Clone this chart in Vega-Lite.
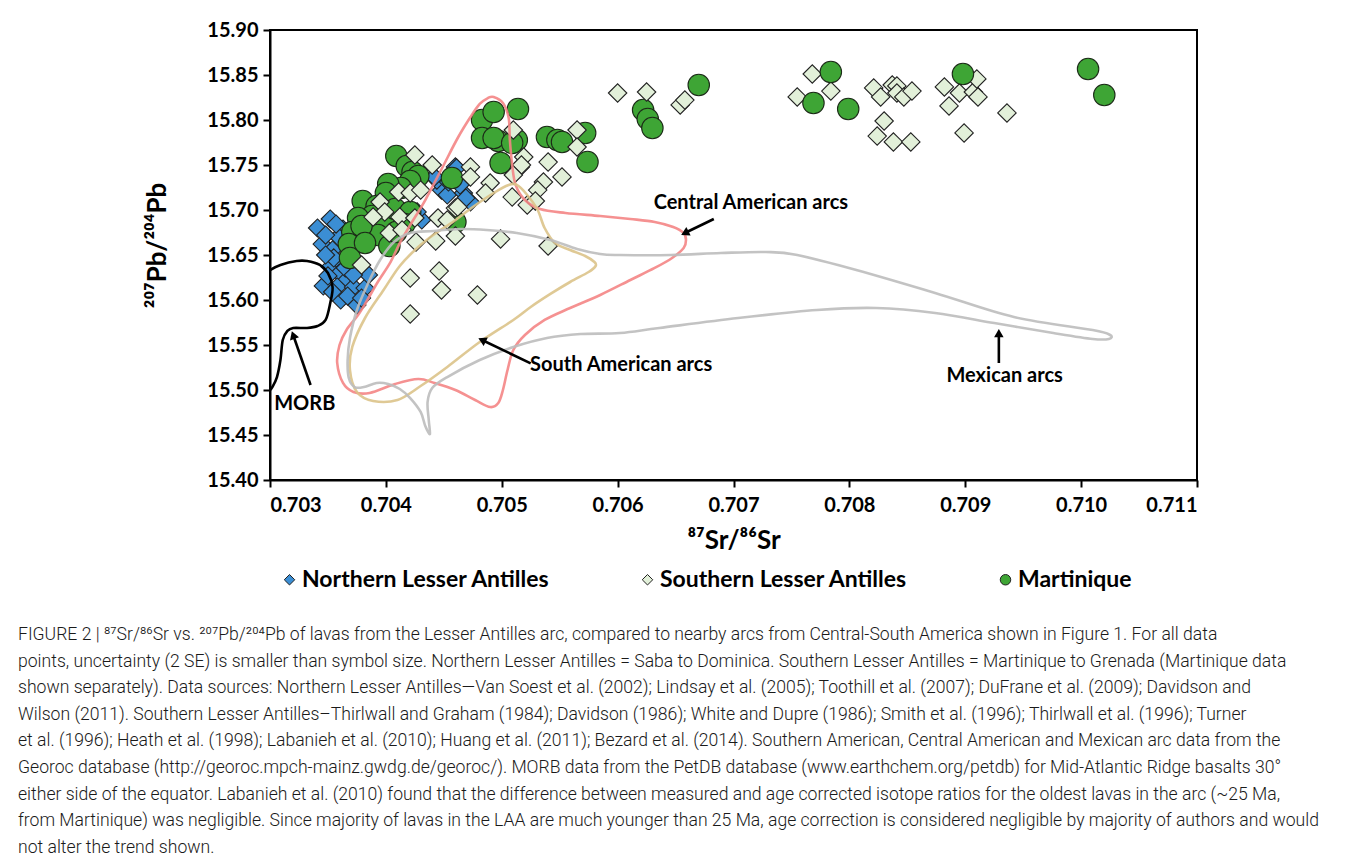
{
  "$schema": "https://vega.github.io/schema/vega-lite/v6.json",
  "width": 927,
  "height": 450,
  "autosize": {"type": "none"},
  "padding": {"left": 270, "top": 30, "right": 157, "bottom": 378},
  "background": "white",
  "config": {
    "view": {"stroke": "black", "strokeWidth": 2},
    "font": "Lato",
    "axis": {
      "grid": false,
      "domainColor": "black",
      "domainWidth": 2,
      "tickColor": "black",
      "tickWidth": 2,
      "tickSize": 7,
      "labelFont": "Lato",
      "labelFontWeight": "bold",
      "labelFontSize": 20,
      "labelColor": "black",
      "titleFont": "Lato",
      "titleFontWeight": "bold",
      "titleFontSize": 26,
      "titleColor": "black"
    },
    "legend": {
      "orient": "none",
      "legendX": 8,
      "legendY": 538,
      "direction": "horizontal",
      "gridAlign": "all",
      "columnPadding": 86,
      "padding": 0,
      "symbolSize": 110,
      "symbolStrokeColor": "#222222",
      "symbolStrokeWidth": 1,
      "labelFont": "Lato",
      "labelFontWeight": "bold",
      "labelFontSize": 23,
      "labelColor": "black",
      "labelOffset": 1,
      "labelLimit": 400
    }
  },
  "title": {
    "text": [
      "FIGURE 2 | ⁸⁷Sr/⁸⁶Sr vs. ²⁰⁷Pb/²⁰⁴Pb of lavas from the Lesser Antilles arc, compared to nearby arcs from Central-South America shown in Figure 1. For all data",
      "points, uncertainty (2 SE) is smaller than symbol size. Northern Lesser Antilles = Saba to Dominica. Southern Lesser Antilles = Martinique to Grenada (Martinique data",
      "shown separately). Data sources: Northern Lesser Antilles—Van Soest et al. (2002); Lindsay et al. (2005); Toothill et al. (2007); DuFrane et al. (2009); Davidson and",
      "Wilson (2011). Southern Lesser Antilles–Thirlwall and Graham (1984); Davidson (1986); White and Dupre (1986); Smith et al. (1996); Thirlwall et al. (1996); Turner",
      "et al. (1996); Heath et al. (1998); Labanieh et al. (2010); Huang et al. (2011); Bezard et al. (2014). Southern American, Central American and Mexican arc data from the",
      "Georoc database (http://georoc.mpch-mainz.gwdg.de/georoc/). MORB data from the PetDB database (www.earthchem.org/petdb) for Mid-Atlantic Ridge basalts 30°",
      "either side of the equator. Labanieh et al. (2010) found that the difference between measured and age corrected isotope ratios for the oldest lavas in the arc (~25 Ma,",
      "from Martinique) was negligible. Since majority of lavas in the LAA are much younger than 25 Ma, age correction is considered negligible by majority of authors and would",
      "not alter the trend shown."
    ],
    "orient": "bottom",
    "anchor": "start",
    "frame": "group",
    "align": "left",
    "dx": -252,
    "offset": 34,
    "font": "Roboto",
    "fontSize": 17.6,
    "fontWeight": 300,
    "color": "#1a1a1a",
    "lineHeight": 26.6
  },
  "datasets": {
    "points": [
      {"g": "Northern Lesser Antilles", "x": 0.70352, "y": 15.69},
      {"g": "Northern Lesser Antilles", "x": 0.70341, "y": 15.68},
      {"g": "Northern Lesser Antilles", "x": 0.70345, "y": 15.6622},
      {"g": "Northern Lesser Antilles", "x": 0.70363, "y": 15.6789},
      {"g": "Northern Lesser Antilles", "x": 0.70359, "y": 15.67},
      {"g": "Northern Lesser Antilles", "x": 0.70354, "y": 15.6556},
      {"g": "Northern Lesser Antilles", "x": 0.70352, "y": 15.6367},
      {"g": "Northern Lesser Antilles", "x": 0.70361, "y": 15.6422},
      {"g": "Northern Lesser Antilles", "x": 0.70355, "y": 15.6467},
      {"g": "Northern Lesser Antilles", "x": 0.7036, "y": 15.63},
      {"g": "Northern Lesser Antilles", "x": 0.70366, "y": 15.6222},
      {"g": "Northern Lesser Antilles", "x": 0.70346, "y": 15.6156},
      {"g": "Northern Lesser Antilles", "x": 0.70358, "y": 15.6144},
      {"g": "Northern Lesser Antilles", "x": 0.70361, "y": 15.6},
      {"g": "Northern Lesser Antilles", "x": 0.70372, "y": 15.6144},
      {"g": "Northern Lesser Antilles", "x": 0.70382, "y": 15.6133},
      {"g": "Northern Lesser Antilles", "x": 0.70385, "y": 15.6278},
      {"g": "Northern Lesser Antilles", "x": 0.70375, "y": 15.5944},
      {"g": "Northern Lesser Antilles", "x": 0.70354, "y": 15.6089},
      {"g": "Northern Lesser Antilles", "x": 0.70367, "y": 15.6044},
      {"g": "Northern Lesser Antilles", "x": 0.7035, "y": 15.6267},
      {"g": "Northern Lesser Antilles", "x": 0.70365, "y": 15.6356},
      {"g": "Northern Lesser Antilles", "x": 0.7046, "y": 15.7478},
      {"g": "Northern Lesser Antilles", "x": 0.70448, "y": 15.7222},
      {"g": "Northern Lesser Antilles", "x": 0.70453, "y": 15.7167},
      {"g": "Northern Lesser Antilles", "x": 0.70467, "y": 15.7189},
      {"g": "Northern Lesser Antilles", "x": 0.70473, "y": 15.7089},
      {"g": "Northern Lesser Antilles", "x": 0.70444, "y": 15.7333},
      {"g": "Northern Lesser Antilles", "x": 0.70461, "y": 15.7467},
      {"g": "Northern Lesser Antilles", "x": 0.70454, "y": 15.7311},
      {"g": "Northern Lesser Antilles", "x": 0.70442, "y": 15.7367},
      {"g": "Northern Lesser Antilles", "x": 0.70464, "y": 15.7278},
      {"g": "Northern Lesser Antilles", "x": 0.70469, "y": 15.7133},
      {"g": "Northern Lesser Antilles", "x": 0.70431, "y": 15.6889},
      {"g": "Northern Lesser Antilles", "x": 0.70427, "y": 15.6978},
      {"g": "Northern Lesser Antilles", "x": 0.70348, "y": 15.6722},
      {"g": "Northern Lesser Antilles", "x": 0.70357, "y": 15.6844},
      {"g": "Northern Lesser Antilles", "x": 0.70371, "y": 15.6556},
      {"g": "Northern Lesser Antilles", "x": 0.70376, "y": 15.6411},
      {"g": "Northern Lesser Antilles", "x": 0.70379, "y": 15.6022},
      {"g": "Northern Lesser Antilles", "x": 0.70372, "y": 15.6278},
      {"g": "Northern Lesser Antilles", "x": 0.70348, "y": 15.65},
      {"g": "Southern Lesser Antilles", "x": 0.70425, "y": 15.7611},
      {"g": "Southern Lesser Antilles", "x": 0.7044, "y": 15.75},
      {"g": "Southern Lesser Antilles", "x": 0.70473, "y": 15.7478},
      {"g": "Southern Lesser Antilles", "x": 0.70473, "y": 15.7367},
      {"g": "Southern Lesser Antilles", "x": 0.7049, "y": 15.73},
      {"g": "Southern Lesser Antilles", "x": 0.70486, "y": 15.7189},
      {"g": "Southern Lesser Antilles", "x": 0.70509, "y": 15.7144},
      {"g": "Southern Lesser Antilles", "x": 0.70516, "y": 15.7478},
      {"g": "Southern Lesser Antilles", "x": 0.7054, "y": 15.7533},
      {"g": "Southern Lesser Antilles", "x": 0.70536, "y": 15.7311},
      {"g": "Southern Lesser Antilles", "x": 0.70531, "y": 15.7222},
      {"g": "Southern Lesser Antilles", "x": 0.70522, "y": 15.7056},
      {"g": "Southern Lesser Antilles", "x": 0.70529, "y": 15.71},
      {"g": "Southern Lesser Antilles", "x": 0.70411, "y": 15.72},
      {"g": "Southern Lesser Antilles", "x": 0.70421, "y": 15.7189},
      {"g": "Southern Lesser Antilles", "x": 0.7043, "y": 15.7222},
      {"g": "Southern Lesser Antilles", "x": 0.70395, "y": 15.7089},
      {"g": "Southern Lesser Antilles", "x": 0.70399, "y": 15.6978},
      {"g": "Southern Lesser Antilles", "x": 0.70389, "y": 15.6922},
      {"g": "Southern Lesser Antilles", "x": 0.70412, "y": 15.6922},
      {"g": "Southern Lesser Antilles", "x": 0.70425, "y": 15.6911},
      {"g": "Southern Lesser Antilles", "x": 0.70403, "y": 15.6744},
      {"g": "Southern Lesser Antilles", "x": 0.70414, "y": 15.6778},
      {"g": "Southern Lesser Antilles", "x": 0.70445, "y": 15.6911},
      {"g": "Southern Lesser Antilles", "x": 0.7046, "y": 15.7022},
      {"g": "Southern Lesser Antilles", "x": 0.70453, "y": 15.6889},
      {"g": "Southern Lesser Antilles", "x": 0.70426, "y": 15.6644},
      {"g": "Southern Lesser Antilles", "x": 0.70443, "y": 15.6656},
      {"g": "Southern Lesser Antilles", "x": 0.7046, "y": 15.6711},
      {"g": "Southern Lesser Antilles", "x": 0.70499, "y": 15.6678},
      {"g": "Southern Lesser Antilles", "x": 0.7054, "y": 15.66},
      {"g": "Southern Lesser Antilles", "x": 0.70379, "y": 15.6389},
      {"g": "Southern Lesser Antilles", "x": 0.70421, "y": 15.6244},
      {"g": "Southern Lesser Antilles", "x": 0.70446, "y": 15.6322},
      {"g": "Southern Lesser Antilles", "x": 0.70448, "y": 15.6111},
      {"g": "Southern Lesser Antilles", "x": 0.70479, "y": 15.6056},
      {"g": "Southern Lesser Antilles", "x": 0.70421, "y": 15.5844},
      {"g": "Southern Lesser Antilles", "x": 0.70519, "y": 15.7589},
      {"g": "Southern Lesser Antilles", "x": 0.70517, "y": 15.75},
      {"g": "Southern Lesser Antilles", "x": 0.7051, "y": 15.7389},
      {"g": "Southern Lesser Antilles", "x": 0.7051, "y": 15.7889},
      {"g": "Southern Lesser Antilles", "x": 0.70552, "y": 15.7367},
      {"g": "Southern Lesser Antilles", "x": 0.70565, "y": 15.7889},
      {"g": "Southern Lesser Antilles", "x": 0.70565, "y": 15.77},
      {"g": "Southern Lesser Antilles", "x": 0.70462, "y": 15.7033},
      {"g": "Southern Lesser Antilles", "x": 0.706, "y": 15.83},
      {"g": "Southern Lesser Antilles", "x": 0.70625, "y": 15.8311},
      {"g": "Southern Lesser Antilles", "x": 0.70654, "y": 15.8167},
      {"g": "Southern Lesser Antilles", "x": 0.70658, "y": 15.8222},
      {"g": "Southern Lesser Antilles", "x": 0.70768, "y": 15.8511},
      {"g": "Southern Lesser Antilles", "x": 0.70755, "y": 15.8256},
      {"g": "Southern Lesser Antilles", "x": 0.70784, "y": 15.8322},
      {"g": "Southern Lesser Antilles", "x": 0.70821, "y": 15.8356},
      {"g": "Southern Lesser Antilles", "x": 0.70827, "y": 15.8256},
      {"g": "Southern Lesser Antilles", "x": 0.70837, "y": 15.8389},
      {"g": "Southern Lesser Antilles", "x": 0.70841, "y": 15.8378},
      {"g": "Southern Lesser Antilles", "x": 0.70841, "y": 15.83},
      {"g": "Southern Lesser Antilles", "x": 0.70847, "y": 15.8256},
      {"g": "Southern Lesser Antilles", "x": 0.70854, "y": 15.8322},
      {"g": "Southern Lesser Antilles", "x": 0.7083, "y": 15.7989},
      {"g": "Southern Lesser Antilles", "x": 0.70824, "y": 15.7822},
      {"g": "Southern Lesser Antilles", "x": 0.70838, "y": 15.7756},
      {"g": "Southern Lesser Antilles", "x": 0.70853, "y": 15.7756},
      {"g": "Southern Lesser Antilles", "x": 0.70882, "y": 15.8367},
      {"g": "Southern Lesser Antilles", "x": 0.70895, "y": 15.83},
      {"g": "Southern Lesser Antilles", "x": 0.70907, "y": 15.8311},
      {"g": "Southern Lesser Antilles", "x": 0.7091, "y": 15.8456},
      {"g": "Southern Lesser Antilles", "x": 0.70911, "y": 15.8256},
      {"g": "Southern Lesser Antilles", "x": 0.70886, "y": 15.8156},
      {"g": "Southern Lesser Antilles", "x": 0.70899, "y": 15.7856},
      {"g": "Southern Lesser Antilles", "x": 0.70936, "y": 15.8078},
      {"g": "Martinique", "x": 0.70409, "y": 15.76},
      {"g": "Martinique", "x": 0.70418, "y": 15.7489},
      {"g": "Martinique", "x": 0.70423, "y": 15.7422},
      {"g": "Martinique", "x": 0.70428, "y": 15.7378},
      {"g": "Martinique", "x": 0.70421, "y": 15.7322},
      {"g": "Martinique", "x": 0.70413, "y": 15.7244},
      {"g": "Martinique", "x": 0.70402, "y": 15.7289},
      {"g": "Martinique", "x": 0.704, "y": 15.7189},
      {"g": "Martinique", "x": 0.7038, "y": 15.71},
      {"g": "Martinique", "x": 0.70392, "y": 15.7044},
      {"g": "Martinique", "x": 0.70388, "y": 15.6933},
      {"g": "Martinique", "x": 0.70376, "y": 15.6911},
      {"g": "Martinique", "x": 0.70398, "y": 15.69},
      {"g": "Martinique", "x": 0.70408, "y": 15.7011},
      {"g": "Martinique", "x": 0.70421, "y": 15.6978},
      {"g": "Martinique", "x": 0.70416, "y": 15.6844},
      {"g": "Martinique", "x": 0.70371, "y": 15.6756},
      {"g": "Martinique", "x": 0.70383, "y": 15.6711},
      {"g": "Martinique", "x": 0.70393, "y": 15.6722},
      {"g": "Martinique", "x": 0.70403, "y": 15.66},
      {"g": "Martinique", "x": 0.70368, "y": 15.6622},
      {"g": "Martinique", "x": 0.70369, "y": 15.6467},
      {"g": "Martinique", "x": 0.70379, "y": 15.6822},
      {"g": "Martinique", "x": 0.70409, "y": 15.6756},
      {"g": "Martinique", "x": 0.7046, "y": 15.6867},
      {"g": "Martinique", "x": 0.70457, "y": 15.7356},
      {"g": "Martinique", "x": 0.70382, "y": 15.6633},
      {"g": "Martinique", "x": 0.70483, "y": 15.8},
      {"g": "Martinique", "x": 0.70493, "y": 15.8089},
      {"g": "Martinique", "x": 0.70514, "y": 15.8122},
      {"g": "Martinique", "x": 0.70483, "y": 15.78},
      {"g": "Martinique", "x": 0.70497, "y": 15.7767},
      {"g": "Martinique", "x": 0.70493, "y": 15.78},
      {"g": "Martinique", "x": 0.70513, "y": 15.7778},
      {"g": "Martinique", "x": 0.70509, "y": 15.7744},
      {"g": "Martinique", "x": 0.70499, "y": 15.7522},
      {"g": "Martinique", "x": 0.70539, "y": 15.7811},
      {"g": "Martinique", "x": 0.70548, "y": 15.7778},
      {"g": "Martinique", "x": 0.70552, "y": 15.7756},
      {"g": "Martinique", "x": 0.70572, "y": 15.7856},
      {"g": "Martinique", "x": 0.70574, "y": 15.7533},
      {"g": "Martinique", "x": 0.70622, "y": 15.8111},
      {"g": "Martinique", "x": 0.70626, "y": 15.8011},
      {"g": "Martinique", "x": 0.7063, "y": 15.7911},
      {"g": "Martinique", "x": 0.7067, "y": 15.8389},
      {"g": "Martinique", "x": 0.70784, "y": 15.8533},
      {"g": "Martinique", "x": 0.70769, "y": 15.8189},
      {"g": "Martinique", "x": 0.70799, "y": 15.8122},
      {"g": "Martinique", "x": 0.70898, "y": 15.8511},
      {"g": "Martinique", "x": 0.71006, "y": 15.8567},
      {"g": "Martinique", "x": 0.7102, "y": 15.8278}
    ],
    "curves": [
      {"c": "MORB", "i": 1, "x": 0.703, "y": 15.6333},
      {"c": "MORB", "i": 2, "x": 0.70309, "y": 15.6389},
      {"c": "MORB", "i": 3, "x": 0.70323, "y": 15.6433},
      {"c": "MORB", "i": 4, "x": 0.70332, "y": 15.6433},
      {"c": "MORB", "i": 5, "x": 0.70343, "y": 15.6389},
      {"c": "MORB", "i": 6, "x": 0.7035, "y": 15.63},
      {"c": "MORB", "i": 7, "x": 0.70354, "y": 15.6144},
      {"c": "MORB", "i": 8, "x": 0.70352, "y": 15.5967},
      {"c": "MORB", "i": 9, "x": 0.70348, "y": 15.5778},
      {"c": "MORB", "i": 10, "x": 0.70341, "y": 15.5711},
      {"c": "MORB", "i": 11, "x": 0.70332, "y": 15.5689},
      {"c": "MORB", "i": 12, "x": 0.7032, "y": 15.5689},
      {"c": "MORB", "i": 13, "x": 0.70315, "y": 15.5656},
      {"c": "MORB", "i": 14, "x": 0.70311, "y": 15.5556},
      {"c": "MORB", "i": 15, "x": 0.70309, "y": 15.5333},
      {"c": "MORB", "i": 16, "x": 0.70306, "y": 15.5144},
      {"c": "MORB", "i": 17, "x": 0.70302, "y": 15.5033},
      {"c": "MORB", "i": 18, "x": 0.703, "y": 15.5},
      {"c": "Central American arcs", "i": 1, "x": 0.70493, "y": 15.8256},
      {"c": "Central American arcs", "i": 2, "x": 0.70501, "y": 15.8189},
      {"c": "Central American arcs", "i": 3, "x": 0.70506, "y": 15.8022},
      {"c": "Central American arcs", "i": 4, "x": 0.70507, "y": 15.7778},
      {"c": "Central American arcs", "i": 5, "x": 0.70509, "y": 15.75},
      {"c": "Central American arcs", "i": 6, "x": 0.70512, "y": 15.7278},
      {"c": "Central American arcs", "i": 7, "x": 0.7052, "y": 15.7111},
      {"c": "Central American arcs", "i": 8, "x": 0.70533, "y": 15.7011},
      {"c": "Central American arcs", "i": 9, "x": 0.70555, "y": 15.6967},
      {"c": "Central American arcs", "i": 10, "x": 0.70585, "y": 15.6933},
      {"c": "Central American arcs", "i": 11, "x": 0.70611, "y": 15.69},
      {"c": "Central American arcs", "i": 12, "x": 0.70632, "y": 15.6867},
      {"c": "Central American arcs", "i": 13, "x": 0.70648, "y": 15.6811},
      {"c": "Central American arcs", "i": 14, "x": 0.70657, "y": 15.6744},
      {"c": "Central American arcs", "i": 15, "x": 0.70659, "y": 15.6667},
      {"c": "Central American arcs", "i": 16, "x": 0.70657, "y": 15.6578},
      {"c": "Central American arcs", "i": 17, "x": 0.70647, "y": 15.6467},
      {"c": "Central American arcs", "i": 18, "x": 0.70632, "y": 15.6356},
      {"c": "Central American arcs", "i": 19, "x": 0.70611, "y": 15.6222},
      {"c": "Central American arcs", "i": 20, "x": 0.70585, "y": 15.6056},
      {"c": "Central American arcs", "i": 21, "x": 0.70559, "y": 15.5911},
      {"c": "Central American arcs", "i": 22, "x": 0.70537, "y": 15.5778},
      {"c": "Central American arcs", "i": 23, "x": 0.7052, "y": 15.5611},
      {"c": "Central American arcs", "i": 24, "x": 0.7051, "y": 15.5444},
      {"c": "Central American arcs", "i": 25, "x": 0.70505, "y": 15.5222},
      {"c": "Central American arcs", "i": 26, "x": 0.70501, "y": 15.5},
      {"c": "Central American arcs", "i": 27, "x": 0.70497, "y": 15.4856},
      {"c": "Central American arcs", "i": 28, "x": 0.7049, "y": 15.4811},
      {"c": "Central American arcs", "i": 29, "x": 0.70477, "y": 15.4889},
      {"c": "Central American arcs", "i": 30, "x": 0.7046, "y": 15.5},
      {"c": "Central American arcs", "i": 31, "x": 0.70442, "y": 15.5078},
      {"c": "Central American arcs", "i": 32, "x": 0.70428, "y": 15.5122},
      {"c": "Central American arcs", "i": 33, "x": 0.70408, "y": 15.5067},
      {"c": "Central American arcs", "i": 34, "x": 0.70386, "y": 15.4967},
      {"c": "Central American arcs", "i": 35, "x": 0.70372, "y": 15.4978},
      {"c": "Central American arcs", "i": 36, "x": 0.70363, "y": 15.5078},
      {"c": "Central American arcs", "i": 37, "x": 0.70358, "y": 15.53},
      {"c": "Central American arcs", "i": 38, "x": 0.7036, "y": 15.55},
      {"c": "Central American arcs", "i": 39, "x": 0.70366, "y": 15.5667},
      {"c": "Central American arcs", "i": 40, "x": 0.70376, "y": 15.5833},
      {"c": "Central American arcs", "i": 41, "x": 0.70384, "y": 15.6},
      {"c": "Central American arcs", "i": 42, "x": 0.70393, "y": 15.62},
      {"c": "Central American arcs", "i": 43, "x": 0.70404, "y": 15.6422},
      {"c": "Central American arcs", "i": 44, "x": 0.70412, "y": 15.6633},
      {"c": "Central American arcs", "i": 45, "x": 0.70421, "y": 15.6833},
      {"c": "Central American arcs", "i": 46, "x": 0.70434, "y": 15.7111},
      {"c": "Central American arcs", "i": 47, "x": 0.70449, "y": 15.7478},
      {"c": "Central American arcs", "i": 48, "x": 0.70462, "y": 15.78},
      {"c": "Central American arcs", "i": 49, "x": 0.70473, "y": 15.8033},
      {"c": "Central American arcs", "i": 50, "x": 0.70481, "y": 15.8178},
      {"c": "Central American arcs", "i": 51, "x": 0.70488, "y": 15.8244},
      {"c": "South American arcs", "i": 1, "x": 0.70513, "y": 15.7278},
      {"c": "South American arcs", "i": 2, "x": 0.70522, "y": 15.7167},
      {"c": "South American arcs", "i": 3, "x": 0.70531, "y": 15.7},
      {"c": "South American arcs", "i": 4, "x": 0.70537, "y": 15.68},
      {"c": "South American arcs", "i": 5, "x": 0.70546, "y": 15.6633},
      {"c": "South American arcs", "i": 6, "x": 0.70559, "y": 15.6556},
      {"c": "South American arcs", "i": 7, "x": 0.70572, "y": 15.6489},
      {"c": "South American arcs", "i": 8, "x": 0.7058, "y": 15.6422},
      {"c": "South American arcs", "i": 9, "x": 0.70581, "y": 15.6378},
      {"c": "South American arcs", "i": 10, "x": 0.70575, "y": 15.6311},
      {"c": "South American arcs", "i": 11, "x": 0.70559, "y": 15.62},
      {"c": "South American arcs", "i": 12, "x": 0.70542, "y": 15.6067},
      {"c": "South American arcs", "i": 13, "x": 0.70525, "y": 15.5922},
      {"c": "South American arcs", "i": 14, "x": 0.7051, "y": 15.5778},
      {"c": "South American arcs", "i": 15, "x": 0.70481, "y": 15.5533},
      {"c": "South American arcs", "i": 16, "x": 0.70453, "y": 15.5256},
      {"c": "South American arcs", "i": 17, "x": 0.7043, "y": 15.5044},
      {"c": "South American arcs", "i": 18, "x": 0.7041, "y": 15.4889},
      {"c": "South American arcs", "i": 19, "x": 0.70389, "y": 15.4878},
      {"c": "South American arcs", "i": 20, "x": 0.70375, "y": 15.4978},
      {"c": "South American arcs", "i": 21, "x": 0.70369, "y": 15.5222},
      {"c": "South American arcs", "i": 22, "x": 0.70371, "y": 15.5478},
      {"c": "South American arcs", "i": 23, "x": 0.70382, "y": 15.58},
      {"c": "South American arcs", "i": 24, "x": 0.70398, "y": 15.6111},
      {"c": "South American arcs", "i": 25, "x": 0.70412, "y": 15.6378},
      {"c": "South American arcs", "i": 26, "x": 0.70427, "y": 15.6578},
      {"c": "South American arcs", "i": 27, "x": 0.70442, "y": 15.6733},
      {"c": "South American arcs", "i": 28, "x": 0.70459, "y": 15.6878},
      {"c": "South American arcs", "i": 29, "x": 0.70475, "y": 15.7033},
      {"c": "South American arcs", "i": 30, "x": 0.70493, "y": 15.7189},
      {"c": "South American arcs", "i": 31, "x": 0.70506, "y": 15.7278},
      {"c": "Mexican arcs", "i": 1, "x": 0.70421, "y": 15.6744},
      {"c": "Mexican arcs", "i": 2, "x": 0.70441, "y": 15.6767},
      {"c": "Mexican arcs", "i": 3, "x": 0.70464, "y": 15.6789},
      {"c": "Mexican arcs", "i": 4, "x": 0.70487, "y": 15.6778},
      {"c": "Mexican arcs", "i": 5, "x": 0.70513, "y": 15.6744},
      {"c": "Mexican arcs", "i": 6, "x": 0.70542, "y": 15.6667},
      {"c": "Mexican arcs", "i": 7, "x": 0.70565, "y": 15.6567},
      {"c": "Mexican arcs", "i": 8, "x": 0.70585, "y": 15.6511},
      {"c": "Mexican arcs", "i": 9, "x": 0.70602, "y": 15.65},
      {"c": "Mexican arcs", "i": 10, "x": 0.70646, "y": 15.65},
      {"c": "Mexican arcs", "i": 11, "x": 0.70689, "y": 15.6522},
      {"c": "Mexican arcs", "i": 12, "x": 0.70728, "y": 15.6533},
      {"c": "Mexican arcs", "i": 13, "x": 0.70755, "y": 15.65},
      {"c": "Mexican arcs", "i": 14, "x": 0.70806, "y": 15.6333},
      {"c": "Mexican arcs", "i": 15, "x": 0.70874, "y": 15.6078},
      {"c": "Mexican arcs", "i": 16, "x": 0.70942, "y": 15.5811},
      {"c": "Mexican arcs", "i": 17, "x": 0.7101, "y": 15.5667},
      {"c": "Mexican arcs", "i": 18, "x": 0.71025, "y": 15.5611},
      {"c": "Mexican arcs", "i": 19, "x": 0.71024, "y": 15.5567},
      {"c": "Mexican arcs", "i": 20, "x": 0.7101, "y": 15.5567},
      {"c": "Mexican arcs", "i": 21, "x": 0.70976, "y": 15.5633},
      {"c": "Mexican arcs", "i": 22, "x": 0.70925, "y": 15.5744},
      {"c": "Mexican arcs", "i": 23, "x": 0.70874, "y": 15.5856},
      {"c": "Mexican arcs", "i": 24, "x": 0.70823, "y": 15.5911},
      {"c": "Mexican arcs", "i": 25, "x": 0.70772, "y": 15.5889},
      {"c": "Mexican arcs", "i": 26, "x": 0.70704, "y": 15.58},
      {"c": "Mexican arcs", "i": 27, "x": 0.70636, "y": 15.5689},
      {"c": "Mexican arcs", "i": 28, "x": 0.70602, "y": 15.5633},
      {"c": "Mexican arcs", "i": 29, "x": 0.70568, "y": 15.5622},
      {"c": "Mexican arcs", "i": 30, "x": 0.70539, "y": 15.5578},
      {"c": "Mexican arcs", "i": 31, "x": 0.7051, "y": 15.5478},
      {"c": "Mexican arcs", "i": 32, "x": 0.70481, "y": 15.5333},
      {"c": "Mexican arcs", "i": 33, "x": 0.70453, "y": 15.5144},
      {"c": "Mexican arcs", "i": 34, "x": 0.7044, "y": 15.5022},
      {"c": "Mexican arcs", "i": 35, "x": 0.70436, "y": 15.4867},
      {"c": "Mexican arcs", "i": 36, "x": 0.70437, "y": 15.4667},
      {"c": "Mexican arcs", "i": 37, "x": 0.70438, "y": 15.4511},
      {"c": "Mexican arcs", "i": 38, "x": 0.70434, "y": 15.46},
      {"c": "Mexican arcs", "i": 39, "x": 0.7043, "y": 15.4756},
      {"c": "Mexican arcs", "i": 40, "x": 0.70421, "y": 15.4911},
      {"c": "Mexican arcs", "i": 41, "x": 0.70412, "y": 15.5011},
      {"c": "Mexican arcs", "i": 42, "x": 0.70402, "y": 15.5067},
      {"c": "Mexican arcs", "i": 43, "x": 0.70392, "y": 15.5078},
      {"c": "Mexican arcs", "i": 44, "x": 0.70381, "y": 15.5033},
      {"c": "Mexican arcs", "i": 45, "x": 0.70373, "y": 15.5033},
      {"c": "Mexican arcs", "i": 46, "x": 0.70368, "y": 15.5133},
      {"c": "Mexican arcs", "i": 47, "x": 0.70367, "y": 15.5333},
      {"c": "Mexican arcs", "i": 48, "x": 0.70369, "y": 15.5578},
      {"c": "Mexican arcs", "i": 49, "x": 0.70375, "y": 15.5889},
      {"c": "Mexican arcs", "i": 50, "x": 0.70384, "y": 15.6167},
      {"c": "Mexican arcs", "i": 51, "x": 0.70395, "y": 15.6444},
      {"c": "Mexican arcs", "i": 52, "x": 0.70407, "y": 15.6644}
    ],
    "arrows": [
      {"a": "MORB", "x": 0.7032, "y": 15.5611, "x2": 0.70335, "y2": 15.5056},
      {"a": "South American arcs", "x": 0.70483, "y": 15.5556, "x2": 0.70525, "y2": 15.5296},
      {"a": "Central American arcs", "x": 0.70658, "y": 15.6744, "x2": 0.70683, "y2": 15.69},
      {"a": "Mexican arcs", "x": 0.70929, "y": 15.5633, "x2": 0.70929, "y2": 15.53}
    ],
    "labels": [
      {"label": "Central American arcs", "x": 0.70715, "y": 15.7078},
      {"label": "South American arcs", "x": 0.70603, "y": 15.5278},
      {"label": "Mexican arcs", "x": 0.70934, "y": 15.5156},
      {"label": "MORB", "x": 0.7033, "y": 15.4844}
    ]
  },
  "encoding": {
    "x": {
      "field": "x",
      "type": "quantitative",
      "scale": {"domain": [0.703, 0.711], "nice": false, "zero": false},
      "axis": {
        "values": [0.703, 0.704, 0.705, 0.706, 0.707, 0.708, 0.709, 0.71, 0.711],
        "format": ".3f",
        "title": "⁸⁷Sr/⁸⁶Sr",
        "labelPadding": 8,
        "titleY": 60,
        "titleBaseline": "middle"
      }
    },
    "y": {
      "field": "y",
      "type": "quantitative",
      "scale": {"domain": [15.4, 15.9], "nice": false, "zero": false},
      "axis": {
        "values": [15.4, 15.45, 15.5, 15.55, 15.6, 15.65, 15.7, 15.75, 15.8, 15.85, 15.9],
        "format": ".2f",
        "title": "²⁰⁷Pb/²⁰⁴Pb",
        "labelPadding": 5,
        "titleX": -113,
        "titleY": 215,
        "titleAngle": 270,
        "titleAlign": "center",
        "titleBaseline": "middle"
      }
    }
  },
  "layer": [
    {
      "data": {"name": "points"},
      "transform": [{"filter": "datum.g === 'Northern Lesser Antilles'"}],
      "mark": {"type": "point", "filled": true, "opacity": 1, "size": 330, "stroke": "#222222", "strokeWidth": 1.1},
      "encoding": {
        "color": {"field": "g", "type": "nominal", "title": null,
          "scale": {"domain": ["Northern Lesser Antilles", "Southern Lesser Antilles", "Martinique"], "range": ["#3b8ed4", "#e2f0d9", "#3ea535"]}},
        "shape": {"field": "g", "type": "nominal", "title": null,
          "scale": {"domain": ["Northern Lesser Antilles", "Southern Lesser Antilles", "Martinique"], "range": ["diamond", "diamond", "circle"]}}
      }
    },
    {
      "data": {"name": "points"},
      "transform": [{"filter": "datum.g === 'Southern Lesser Antilles' && datum.x > 0.7074"}],
      "mark": {"type": "point", "filled": true, "opacity": 1, "size": 340, "stroke": "#222222", "strokeWidth": 1.1},
      "encoding": {
        "color": {"field": "g", "type": "nominal", "title": null,
          "scale": {"domain": ["Northern Lesser Antilles", "Southern Lesser Antilles", "Martinique"], "range": ["#3b8ed4", "#e2f0d9", "#3ea535"]}},
        "shape": {"field": "g", "type": "nominal", "title": null,
          "scale": {"domain": ["Northern Lesser Antilles", "Southern Lesser Antilles", "Martinique"], "range": ["diamond", "diamond", "circle"]}}
      }
    },
    {
      "data": {"name": "points"},
      "transform": [{"filter": "datum.g === 'Martinique'"}],
      "mark": {"type": "point", "filled": true, "opacity": 1, "size": 460, "stroke": "#1c2a18", "strokeWidth": 1.1},
      "encoding": {
        "color": {"field": "g", "type": "nominal", "title": null,
          "scale": {"domain": ["Northern Lesser Antilles", "Southern Lesser Antilles", "Martinique"], "range": ["#3b8ed4", "#e2f0d9", "#3ea535"]}},
        "shape": {"field": "g", "type": "nominal", "title": null,
          "scale": {"domain": ["Northern Lesser Antilles", "Southern Lesser Antilles", "Martinique"], "range": ["diamond", "diamond", "circle"]}}
      }
    },
    {
      "data": {"name": "points"},
      "transform": [{"filter": "datum.g === 'Southern Lesser Antilles' && datum.x <= 0.7074"}],
      "mark": {"type": "point", "filled": true, "opacity": 1, "size": 340, "stroke": "#222222", "strokeWidth": 1.1},
      "encoding": {
        "color": {"field": "g", "type": "nominal", "title": null,
          "scale": {"domain": ["Northern Lesser Antilles", "Southern Lesser Antilles", "Martinique"], "range": ["#3b8ed4", "#e2f0d9", "#3ea535"]}},
        "shape": {"field": "g", "type": "nominal", "title": null,
          "scale": {"domain": ["Northern Lesser Antilles", "Southern Lesser Antilles", "Martinique"], "range": ["diamond", "diamond", "circle"]}}
      }
    },
    {
      "data": {"name": "curves"},
      "transform": [{"filter": "datum.c !== 'MORB'"}],
      "mark": {"type": "line", "interpolate": "cardinal-closed", "strokeWidth": 2.6, "opacity": 0.9},
      "encoding": {
        "stroke": {"field": "c", "type": "nominal", "legend": null,
          "scale": {"domain": ["Central American arcs", "South American arcs", "Mexican arcs"], "range": ["#f48585", "#dcc38a", "#bdbdbd"]}},
        "order": {"field": "i", "type": "quantitative"}
      }
    },
    {
      "data": {"name": "curves"},
      "transform": [{"filter": "datum.c === 'MORB'"}],
      "mark": {"type": "line", "interpolate": "cardinal", "strokeWidth": 2.6, "color": "black"},
      "encoding": {
        "order": {"field": "i", "type": "quantitative"}
      }
    },
    {
      "data": {"name": "arrows"},
      "mark": {"type": "rule", "strokeWidth": 2.6, "color": "black"},
      "encoding": {
        "x2": {"field": "x2"},
        "y2": {"field": "y2"}
      }
    },
    {
      "data": {"name": "arrows"},
      "transform": [{"filter": "datum.a === 'MORB'"}],
      "mark": {"type": "point", "shape": "triangle-up", "filled": true, "opacity": 1, "color": "black", "size": 90, "angle": -19},
      "encoding": {}
    },
    {
      "data": {"name": "arrows"},
      "transform": [{"filter": "datum.a === 'South American arcs'"}],
      "mark": {"type": "point", "shape": "triangle-up", "filled": true, "opacity": 1, "color": "black", "size": 90, "angle": -64},
      "encoding": {}
    },
    {
      "data": {"name": "arrows"},
      "transform": [{"filter": "datum.a === 'Central American arcs'"}],
      "mark": {"type": "point", "shape": "triangle-up", "filled": true, "opacity": 1, "color": "black", "size": 90, "angle": -117},
      "encoding": {}
    },
    {
      "data": {"name": "arrows"},
      "transform": [{"filter": "datum.a === 'Mexican arcs'"}],
      "mark": {"type": "point", "shape": "triangle-up", "filled": true, "opacity": 1, "color": "black", "size": 90, "angle": 0},
      "encoding": {}
    },
    {
      "data": {"name": "labels"},
      "mark": {"type": "text", "font": "Lato", "fontWeight": "bold", "fontSize": 20, "color": "black", "align": "center", "baseline": "middle"},
      "encoding": {
        "text": {"field": "label"}
      }
    }
  ]
}
